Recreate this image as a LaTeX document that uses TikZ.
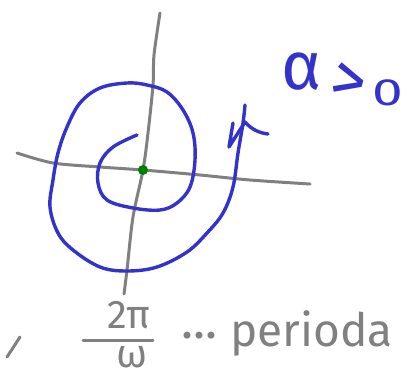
\documentclass[tikz,border=0pt]{standalone}
\usepackage{fontspec}
\setmainfont{Fira Sans}[Numbers=Lining]
\definecolor{pen}{RGB}{51,51,204}
\definecolor{pencil}{RGB}{128,128,128}
\definecolor{dotgreen}{RGB}{0,128,0}
\tikzset{
  axisline/.style={pencil, line width=3pt, line cap=round, line join=round},
  spiralline/.style={pen, line width=3.4pt, line cap=round, line join=round},
  bluetext/.style={pen, inner sep=0pt},
  graytext/.style={pencil, inner sep=0pt}
}
\begin{document}
\begin{tikzpicture}[x=1pt,y=-1pt]
\useasboundingbox (0,0) rectangle (417,367);
% axes
\draw[axisline] plot[smooth] coordinates {(160,13) (154,55) (153,85) (148,133) (143,170) (133,217) (127,270) (124,294)};
\draw[axisline] plot[smooth] coordinates {(17,153) (53,163) (100,167) (143,170) (200,175) (250,180) (310,184)};
% spiral
\draw[spiralline] plot[smooth, tension=0.6] coordinates {(137,135) (113,147) (100,163) (98,183) (107,200) (133,208) (160,210) (177,203) (190,187) (195,160) (193,133) (183,110) (167,92) (147,85) (127,83) (100,88) (80,103) (67,127) (58,153) (53,180) (50,207) (58,233) (73,250) (100,267) (127,271) (157,267) (187,252) (207,233) (223,213) (233,187) (238,153) (243,123) (245,105)};
% arrow head
\draw[spiralline] (233,123) -- (229,147) -- (245,122) .. controls (252,130) and (260,133) .. (268,134);
% center point
\fill[dotgreen] (143,170) circle (5);
\node[bluetext, font=\fontsize{68}{68}\selectfont] (alpha) at (302,72) {α};
\node[bluetext, font=\fontsize{70}{70}\selectfont, rotate=-15] (gt) at (348,84) {>};
\node[bluetext, font=\fontsize{38}{38}\selectfont] (zero) at (388,93) {\scalebox{1.45}[1]{0}};
% bottom text
\draw[axisline] (7,357) -- (20,337);
\node[graytext, font=\fontsize{40}{40}\selectfont] (num) at (129,315) {2π};
\draw[axisline] (83,340) -- (153,340);
\node[graytext, font=\fontsize{40}{40}\selectfont, anchor=north] (den) at (132,346) {ω};
\node[graytext, font=\fontsize{50}{50}\selectfont] (dots) at (199,336) {...};
\node[graytext, font=\fontsize{46}{46}\selectfont, anchor=base west] (per) at (230,346) {perioda};
\end{tikzpicture}
\end{document}
